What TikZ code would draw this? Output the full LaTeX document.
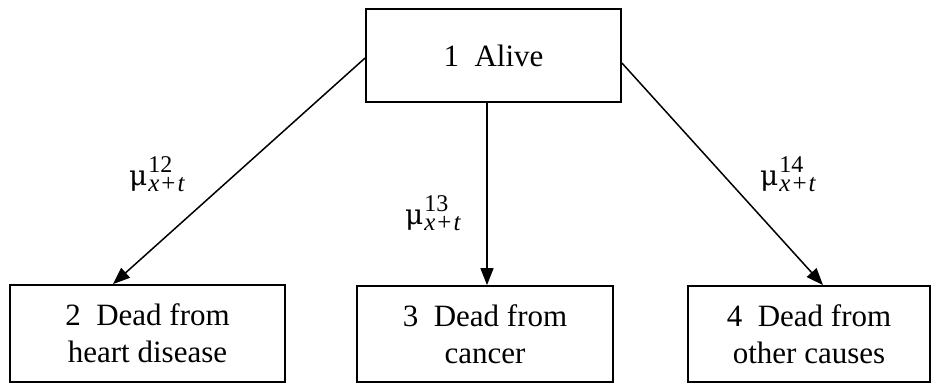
\documentclass[tikz,border=0pt]{standalone}
\usepackage{fontspec}
\setmainfont{Liberation Serif}
\newfontfamily\mufont{DejaVu Serif}
\usetikzlibrary{arrows.meta}
\newcommand\supfnt{\fontsize{24}{24}\selectfont}
\newcommand\subfnt{\fontsize{25}{25}\selectfont}
\newcommand\raterate[1]{{\mufont\fontsize{28}{28}\selectfont μ}\kern1pt\rlap{\raisebox{13pt}{\supfnt #1}}\raisebox{-6pt}{\subfnt\textit{x}\kern2pt+\kern2pt\textit{t}}}
\begin{document}
\begin{tikzpicture}[x=1pt,y=-1pt,
  statebox/.style={draw=black,line width=1.8pt,inner sep=0pt,align=center,
    font=\fontsize{31}{37}\selectfont},
  trans/.style={line width=1.5pt,-{Triangle[length=17pt,width=13pt]}},
  ratelabel/.style={inner sep=0pt,anchor=base west,font=\fontsize{31}{37}\selectfont}]
\useasboundingbox (0,0) rectangle (932,383);
\node[statebox,minimum width=255pt,minimum height=93pt] (b1) at (493.5,55.5) {1\ \ Alive};
\node[statebox,minimum width=275pt,minimum height=97pt] (b2) at (147.5,333.5) {2\ \ Dead from\\heart disease};
\node[statebox,minimum width=256pt,minimum height=96pt] (b3) at (485,334) {3\ \ Dead from\\cancer};
\node[statebox,minimum width=242pt,minimum height=96pt] (b4) at (809,334) {4\ \ Dead from\\other causes};
\draw[trans] ([yshift=-2.5pt]b1.west) -- ([xshift=-34.5pt]b2.north);
\draw[trans] ([xshift=-6.5pt]b1.south) -- ([xshift=-6.5pt]b1.south |- b3.north);
\draw[trans] ([yshift=-7.5pt]b1.east) -- ([xshift=14pt]b4.north);
\node[ratelabel] (r12) at (129,185) {\raterate{12}};
\node[ratelabel] (r13) at (405,224) {\raterate{13}};
\node[ratelabel] (r14) at (760,185) {\raterate{14}};
\end{tikzpicture}
\end{document}
